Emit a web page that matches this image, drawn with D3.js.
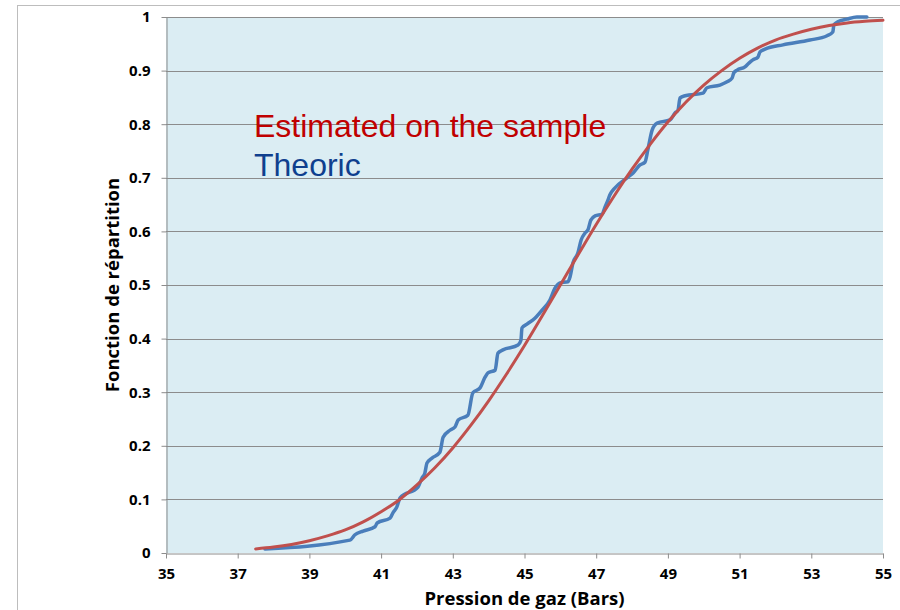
<!DOCTYPE html>
<html>
<head>
<meta charset="utf-8">
<script src="https://cdn.jsdelivr.net/npm/d3@7"></script>
<style>
  html, body { margin: 0; padding: 0; background: #ffffff; }
  svg { display: block; }
</style>
</head>
<body>
<div id="chart"></div>
<script>
// ---- Data ----
const xTickValues = [35, 37, 39, 41, 43, 45, 47, 49, 51, 53, 55];
const yTickValues = [0, 0.1, 0.2, 0.3, 0.4, 0.5, 0.6, 0.7, 0.8, 0.9, 1];
const yTickLabels = ["0", "0.1", "0.2", "0.3", "0.4", "0.5", "0.6", "0.7", "0.8", "0.9", "1"];

// Red smooth curve ("Estimated on the sample")
const estimatedX = [37.5, 38, 38.5, 39, 39.5, 40, 40.5, 41, 41.5, 42, 42.5, 43, 43.5, 44, 44.5, 45, 45.5, 46,
  46.5, 47, 47.5, 48, 48.5, 49, 49.5, 50, 50.5, 51, 51.5, 52, 52.5, 53, 53.5, 54, 54.5, 55];
const estimatedY = [0.0075, 0.011, 0.016, 0.023, 0.032, 0.043, 0.058, 0.077, 0.099, 0.127, 0.159, 0.196, 0.238,
  0.284, 0.334, 0.387, 0.443, 0.500, 0.557, 0.613, 0.666, 0.716, 0.762, 0.804, 0.841, 0.873, 0.900, 0.923,
  0.942, 0.957, 0.968, 0.977, 0.984, 0.989, 0.992, 0.994];

// Blue wavy curve ("Theoric")
const theoricX = [37.76, 40.13, 40.27, 40.50, 40.83, 40.89, 41.25, 41.33, 41.44, 41.53, 42.03, 42.14, 42.22,
  42.28, 42.42, 42.64, 42.73, 42.92, 43.06, 43.15, 43.42, 43.56, 43.76, 43.90, 43.98, 44.18, 44.26, 44.40,
  44.82, 44.90, 44.93, 45.07, 45.29, 45.49, 45.71, 45.85, 45.99, 46.21, 46.27, 46.35, 46.49, 46.58, 46.69,
  46.77, 46.85, 46.97, 47.16, 47.25, 47.33, 47.38, 47.52, 47.86, 48.03, 48.22, 48.36, 48.44, 48.56, 48.70,
  49.06, 49.20, 49.28, 49.34, 49.48, 49.98, 50.09, 50.45, 50.65, 50.79, 50.84, 50.93, 51.15, 51.26, 51.37,
  51.51, 51.57, 51.71, 52.21, 52.96, 53.44, 53.60, 53.63, 53.74, 53.99, 54.27, 54.55];
const theoricY = [0.0075, 0.024, 0.034, 0.041, 0.049, 0.056, 0.065, 0.075, 0.086, 0.103, 0.123, 0.140, 0.149,
  0.168, 0.177, 0.188, 0.216, 0.229, 0.235, 0.248, 0.257, 0.299, 0.308, 0.328, 0.336, 0.341, 0.373, 0.379,
  0.388, 0.397, 0.420, 0.427, 0.438, 0.453, 0.472, 0.494, 0.504, 0.506, 0.515, 0.541, 0.560, 0.584, 0.597,
  0.603, 0.621, 0.629, 0.632, 0.646, 0.659, 0.668, 0.681, 0.700, 0.709, 0.724, 0.729, 0.752, 0.789, 0.802,
  0.808, 0.821, 0.826, 0.849, 0.853, 0.858, 0.868, 0.873, 0.879, 0.886, 0.896, 0.901, 0.907, 0.914, 0.920,
  0.925, 0.935, 0.940, 0.948, 0.957, 0.965, 0.972, 0.985, 0.991, 0.996, 1.0, 1.0];

const legendLabels = ["Estimated on the sample", "Theoric"];
const xTitle = "Pression de gaz (Bars)";
const yTitle = "Fonction de répartition";

// ---- Layout ----
const W = 900, H = 610;
const plot = { left: 166, right: 883, top: 17, bottom: 553 };

const svg = d3.select("#chart").append("svg")
  .attr("width", W).attr("height", H);

// outer chart frame
svg.append("rect")
  .attr("x", 17.5).attr("y", 5.5)
  .attr("width", W + 20).attr("height", H + 20)
  .attr("fill", "#ffffff").attr("stroke", "#bdbdbd").attr("stroke-width", 1);

const x = d3.scaleLinear().domain([35, 55]).range([plot.left, plot.right]);
const y = d3.scaleLinear().domain([0, 1]).range([plot.bottom, plot.top]);

// plot background
svg.append("rect")
  .attr("x", plot.left).attr("y", plot.top)
  .attr("width", plot.right - plot.left).attr("height", plot.bottom - plot.top)
  .attr("fill", "#dbedf3");

// gridlines
svg.append("g")
  .selectAll("line")
  .data(yTickValues.filter(d => d > 0))
  .join("line")
  .attr("x1", plot.left).attr("x2", plot.right)
  .attr("y1", d => Math.round(y(d)) + 0.5).attr("y2", d => Math.round(y(d)) + 0.5)
  .attr("stroke", "#8c8c8c").attr("stroke-width", 1);

// Y axis
const yAxis = d3.axisLeft(y)
  .tickValues(yTickValues)
  .tickFormat((d, i) => yTickLabels[i])
  .tickSizeInner(5).tickSizeOuter(0).tickPadding(11);
const gy = svg.append("g")
  .attr("transform", `translate(${plot.left + 0.5},0)`)
  .call(yAxis);
gy.select(".domain").attr("stroke", "#8c8c8c");
gy.selectAll(".tick line").attr("stroke", "#8c8c8c");
gy.selectAll(".tick text")
  .attr("font-family", "'Open Sans', sans-serif")
  .attr("font-weight", "bold").attr("font-size", 15).attr("fill", "#000");

// X axis
const xAxis = d3.axisBottom(x)
  .tickValues(xTickValues)
  .tickFormat(d3.format("d"))
  .tickSizeInner(5).tickSizeOuter(0).tickPadding(10);
const gx = svg.append("g")
  .attr("transform", `translate(0,${plot.bottom + 0.5})`)
  .call(xAxis);
gx.select(".domain").attr("stroke", "#8c8c8c");
gx.selectAll(".tick line").attr("stroke", "#8c8c8c");
gx.selectAll(".tick text")
  .attr("font-family", "'Open Sans', sans-serif")
  .attr("font-weight", "bold").attr("font-size", 15).attr("fill", "#000");

// Lines
const line = d3.line()
  .x(d => x(d[0])).y(d => y(d[1]))
  .curve(d3.curveMonotoneX);

svg.append("path")
  .datum(theoricX.map((v, i) => [v, theoricY[i]]))
  .attr("d", line)
  .attr("fill", "none").attr("stroke", "#4a7ebb").attr("stroke-width", 3.5)
  .attr("stroke-linejoin", "round").attr("stroke-linecap", "round");

svg.append("path")
  .datum(estimatedX.map((v, i) => [v, estimatedY[i]]))
  .attr("d", line)
  .attr("fill", "none").attr("stroke", "#c0504d").attr("stroke-width", 3)
  .attr("stroke-linejoin", "round").attr("stroke-linecap", "round");

// Legend texts
svg.append("text")
  .attr("x", 254).attr("y", 137)
  .attr("font-family", "'Liberation Sans', Arial, sans-serif")
  .attr("font-size", 32).attr("fill", "#c00000")
  .text(legendLabels[0]);
svg.append("text")
  .attr("x", 254).attr("y", 176)
  .attr("font-family", "'Liberation Sans', Arial, sans-serif")
  .attr("font-size", 32).attr("fill", "#0f3f8e")
  .text(legendLabels[1]);

// Axis titles
svg.append("text")
  .attr("x", (plot.left + plot.right) / 2).attr("y", 605)
  .attr("text-anchor", "middle")
  .attr("font-family", "'Open Sans', sans-serif")
  .attr("font-weight", "bold").attr("font-size", 18.5).attr("fill", "#000")
  .text(xTitle);

svg.append("text")
  .attr("transform", `translate(119,${(plot.top + plot.bottom) / 2}) rotate(-90)`)
  .attr("text-anchor", "middle")
  .attr("font-family", "'Open Sans', sans-serif")
  .attr("font-weight", "bold").attr("font-size", 18.5).attr("fill", "#000")
  .text(yTitle);
</script>
</body>
</html>
